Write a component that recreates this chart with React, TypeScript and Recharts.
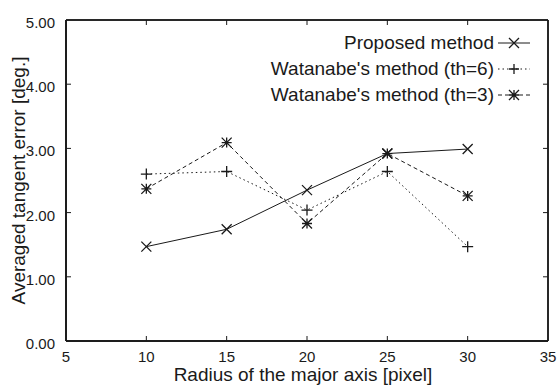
import React from 'react';
import { LineChart, Line, XAxis, YAxis, ReferenceLine, ReferenceDot, CartesianGrid } from 'recharts';

const radii = [10, 15, 20, 25, 30];
const proposed = [1.47, 1.74, 2.35, 2.92, 2.99];
const watanabe6 = [2.6, 2.64, 2.04, 2.64, 1.47];
const watanabe3 = [2.37, 3.09, 1.83, 2.92, 2.26];

const xTicks = [5, 10, 15, 20, 25, 30, 35];
const yTicks = [0, 1, 2, 3, 4, 5];

const seriesNames = [
  'Proposed method',
  "Watanabe's method (th=6)",
  "Watanabe's method (th=3)",
];

const data = radii.map((r, i) => ({
  r,
  p: proposed[i],
  w6: watanabe6[i],
  w3: watanabe3[i],
}));

const X_MIN = xTicks[0];
const X_MAX = xTicks[xTicks.length - 1];
const Y_MIN = yTicks[0];
const Y_MAX = yTicks[yTicks.length - 1];

const INK = '#1a1a1a';
const FONT = '"Liberation Sans", Arial, Helvetica, sans-serif';
const TICK_LEN = 5;

type MarkerKind = 'x' | 'plus' | 'star';

const markerPath = (kind: MarkerKind, cx: number, cy: number, s: number) => {
  const h = s / 2;
  const xPart = `M${cx - h},${cy - h}L${cx + h},${cy + h}M${cx - h},${cy + h}L${cx + h},${cy - h}`;
  const plusPart = `M${cx - h},${cy}L${cx + h},${cy}M${cx},${cy - h}L${cx},${cy + h}`;
  if (kind === 'x') return xPart;
  if (kind === 'plus') return plusPart;
  return xPart + plusPart;
};

const makeDot = (kind: MarkerKind) => (props: any) => {
  const { cx, cy, index } = props;
  if (cx == null || cy == null) return <g key={`d-${kind}-${index}`} />;
  return (
    <path
      key={`d-${kind}-${index}`}
      d={markerPath(kind, cx, cy, kind === 'plus' ? 11 : 10)}
      stroke={INK}
      strokeWidth={1.3}
      fill="none"
    />
  );
};

const XTick = (props: any) => {
  const { x, y, payload } = props;
  return (
    <text x={x} y={y} dy={13} textAnchor="middle" fontSize={15} fontFamily={FONT} fill={INK}>
      {payload.value}
    </text>
  );
};

const YTick = (props: any) => {
  const { x, y, payload } = props;
  return (
    <text x={x} y={y} dy={8} textAnchor="end" fontSize={15} fontFamily={FONT} fill={INK}>
      {Number(payload.value).toFixed(2)}
    </text>
  );
};

const makeTick = (dx: number, dy: number) => (props: any) => {
  const { cx, cy } = props;
  if (cx == null || cy == null) return <g />;
  return <line x1={cx} y1={cy} x2={cx + dx} y2={cy + dy} stroke={INK} strokeWidth={1} />;
};
const UpTick = makeTick(0, -TICK_LEN);
const DownTick = makeTick(0, TICK_LEN);
const RightwardTick = makeTick(TICK_LEN, 0);
const LeftwardTick = makeTick(-TICK_LEN, 0);

const legendStyles: { kind: MarkerKind; dash?: string }[] = [
  { kind: 'x' },
  { kind: 'plus', dash: '1.5 3' },
  { kind: 'star', dash: '4 3' },
];

const LegendBox = () => (
  <div
    style={{
      position: 'absolute',
      top: 30,
      right: 26,
      fontFamily: FONT,
      fontSize: 19,
      color: INK,
      pointerEvents: 'none',
    }}
  >
    {seriesNames.map((name, i) => (
      <div
        key={name}
        style={{ display: 'flex', alignItems: 'center', justifyContent: 'flex-end', height: 26, whiteSpace: 'nowrap' }}
      >
        <span style={{ lineHeight: '26px' }}>{name}</span>
        <svg width={38} height={26} style={{ display: 'block' }}>
          <line
            x1={4}
            y1={13}
            x2={36}
            y2={13}
            stroke={INK}
            strokeWidth={1}
            strokeDasharray={legendStyles[i].dash}
          />
          <path d={markerPath(legendStyles[i].kind, 20, 13, 10)} stroke={INK} strokeWidth={1.3} fill="none" />
        </svg>
      </div>
    ))}
  </div>
);

export default function App() {
  return (
    <div style={{ position: 'absolute', left: 0, top: 0, width: 558, height: 386, background: '#fff' }}>
      <LineChart width={558} height={386} data={data} margin={{ top: 20, right: 10, left: 0, bottom: 0 }}>
        <CartesianGrid
          stroke={INK}
          strokeWidth={1.5}
          fill="none"
          horizontalCoordinatesGenerator={(p: any) =>
            p && p.offset ? [p.offset.top, p.offset.top + p.offset.height] : []
          }
          verticalCoordinatesGenerator={(p: any) =>
            p && p.offset ? [p.offset.left, p.offset.left + p.offset.width] : []
          }
        />
        <XAxis
          dataKey="r"
          type="number"
          domain={[X_MIN, X_MAX]}
          ticks={xTicks}
          height={45}
          tickLine={false}
          tick={<XTick />}
          stroke={INK}
          axisLine={{ stroke: INK, strokeWidth: 1.5 }}
          label={{
            value: 'Radius of the major axis [pixel]',
            position: 'insideBottom',
            offset: 5,
            dx: -4,
            style: { fontFamily: FONT, fontSize: 19, fill: INK },
          }}
        />
        <YAxis
          type="number"
          domain={[Y_MIN, Y_MAX]}
          ticks={yTicks}
          width={66}
          tickLine={false}
          tickMargin={5}
          tick={<YTick />}
          stroke={INK}
          axisLine={{ stroke: INK, strokeWidth: 1.5 }}
          label={{
            value: 'Averaged tangent error [deg.]',
            angle: -90,
            position: 'insideLeft',
            offset: 18,
            style: { fontFamily: FONT, fontSize: 19, fill: INK, textAnchor: 'middle' },
          }}
        />
        <ReferenceLine y={Y_MAX} stroke={INK} strokeWidth={1.5} ifOverflow="visible" />
        <ReferenceLine y={Y_MIN} stroke={INK} strokeWidth={1.5} ifOverflow="visible" />
        <ReferenceLine x={X_MAX} stroke={INK} strokeWidth={1.5} ifOverflow="visible" />
        <ReferenceLine x={X_MIN} stroke={INK} strokeWidth={1.5} ifOverflow="visible" />
        {xTicks.slice(1, -1).map((t) => (
          <ReferenceDot key={`tt-${t}`} x={t} y={Y_MAX} ifOverflow="visible" shape={DownTick} />
        ))}
        {xTicks.slice(1, -1).map((t) => (
          <ReferenceDot key={`bt-${t}`} x={t} y={Y_MIN} ifOverflow="visible" shape={UpTick} />
        ))}
        {yTicks.slice(1, -1).map((t) => (
          <ReferenceDot key={`rt-${t}`} x={X_MAX} y={t} ifOverflow="visible" shape={LeftwardTick} />
        ))}
        {yTicks.slice(1, -1).map((t) => (
          <ReferenceDot key={`lt-${t}`} x={X_MIN} y={t} ifOverflow="visible" shape={RightwardTick} />
        ))}
        <Line
          dataKey="p"
          name={seriesNames[0]}
          stroke={INK}
          strokeWidth={1}
          dot={makeDot('x')}
          activeDot={false}
          isAnimationActive={false}
        />
        <Line
          dataKey="w6"
          name={seriesNames[1]}
          stroke={INK}
          strokeWidth={1}
          strokeDasharray="1.5 3"
          dot={makeDot('plus')}
          activeDot={false}
          isAnimationActive={false}
        />
        <Line
          dataKey="w3"
          name={seriesNames[2]}
          stroke={INK}
          strokeWidth={1}
          strokeDasharray="4 3"
          dot={makeDot('star')}
          activeDot={false}
          isAnimationActive={false}
        />
      </LineChart>
      <LegendBox />
    </div>
  );
}
